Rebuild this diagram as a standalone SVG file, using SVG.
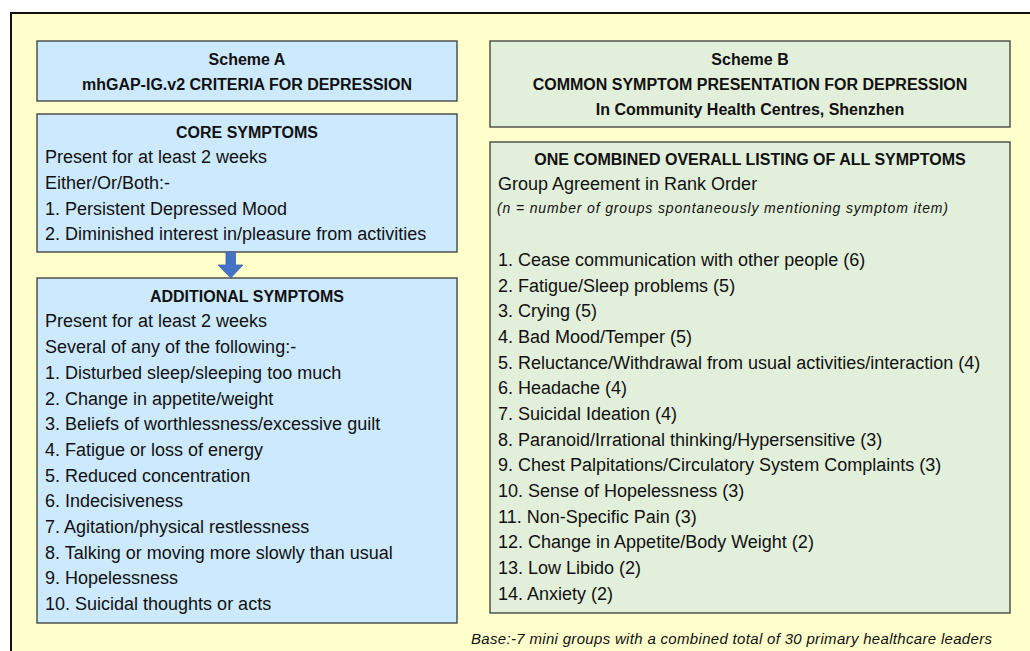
<svg xmlns="http://www.w3.org/2000/svg" width="1030" height="651" viewBox="0 0 1030 651">
<style>
.box{stroke:#3a3a3a;stroke-width:1.3}
.blue{fill:#CCE9FE}
.green{fill:#E2EFDA}
text{font-family:"Liberation Sans",Arial,sans-serif;fill:#111}
.t{font-size:16px;font-weight:bold;text-anchor:middle}
.b{font-size:18px}
.i{font-style:italic}
</style>
<rect x="11" y="13" width="1030" height="650" fill="#FFFFCC" stroke="#111" stroke-width="2"/>
<g id="schemeA">
<rect class="box blue" x="37" y="41" width="420" height="60"/>
<text class="t" x="247" y="65">Scheme A</text>
<text class="t" x="247" y="90">mhGAP-IG.v2 CRITERIA FOR DEPRESSION</text>
</g>
<g id="core">
<rect class="box blue" x="37" y="114" width="420" height="138"/>
<text class="t" x="247" y="138">CORE SYMPTOMS</text>
<text class="b" x="45" y="163">Present for at least 2 weeks</text>
<text class="b" x="45" y="189">Either/Or/Both:-</text>
<text class="b" x="45" y="215">1. Persistent Depressed Mood</text>
<text class="b" x="45" y="240">2. Diminished interest in/pleasure from activities</text>
</g>
<g id="additional">
<rect class="box blue" x="37" y="278" width="420" height="345"/>
<text class="t" x="247" y="302">ADDITIONAL SYMPTOMS</text>
<text class="b" x="45" y="327">Present for at least 2 weeks</text>
<text class="b" x="45" y="353">Several of any of the following:-</text>
<text class="b" x="45" y="379">1. Disturbed sleep/sleeping too much</text>
<text class="b" x="45" y="404.6">2. Change in appetite/weight</text>
<text class="b" x="45" y="430.3">3. Beliefs of worthlessness/excessive guilt</text>
<text class="b" x="45" y="456">4. Fatigue or loss of energy</text>
<text class="b" x="45" y="481.7">5. Reduced concentration</text>
<text class="b" x="45" y="507.3">6. Indecisiveness</text>
<text class="b" x="45" y="533">7. Agitation/physical restlessness</text>
<text class="b" x="45" y="558.7">8. Talking or moving more slowly than usual</text>
<text class="b" x="45" y="584.3">9. Hopelessness</text>
<text class="b" x="45" y="610">10. Suicidal thoughts or acts</text>
</g>
<g id="connectors">
<path d="M226 252 H235.5 V265 H243 L230.7 278 L218 265 H226 Z" fill="#4472C4" stroke="#3A62AE" stroke-width="0.8"/>
</g>
<g id="schemeB">
<rect class="box green" x="490" y="41" width="520" height="86"/>
<text class="t" x="750" y="65">Scheme B</text>
<text class="t" x="750" y="90">COMMON SYMPTOM PRESENTATION FOR DEPRESSION</text>
<text class="t" x="750" y="115">In Community Health Centres, Shenzhen</text>
</g>
<g id="combined">
<rect class="box green" x="490" y="142" width="520" height="471"/>
<text class="t" x="750" y="165">ONE COMBINED OVERALL LISTING OF ALL SYMPTOMS</text>
<text class="b" x="498" y="190">Group Agreement in Rank Order</text>
<text class="i" x="497" y="212.5" font-size="14" textLength="451">(n = number of groups spontaneously mentioning symptom item)</text>
<text class="b" x="498" y="266">1. Cease communication with other people (6)</text>
<text class="b" x="498" y="291.7">2. Fatigue/Sleep problems (5)</text>
<text class="b" x="498" y="317.3">3. Crying (5)</text>
<text class="b" x="498" y="343">4. Bad Mood/Temper (5)</text>
<text class="b" x="498" y="368.7">5. Reluctance/Withdrawal from usual activities/interaction (4)</text>
<text class="b" x="498" y="394.3">6. Headache (4)</text>
<text class="b" x="498" y="420">7. Suicidal Ideation (4)</text>
<text class="b" x="498" y="445.7">8. Paranoid/Irrational thinking/Hypersensitive (3)</text>
<text class="b" x="498" y="471.3">9. Chest Palpitations/Circulatory System Complaints (3)</text>
<text class="b" x="498" y="497">10. Sense of Hopelessness (3)</text>
<text class="b" x="498" y="522.7">11. Non-Specific Pain (3)</text>
<text class="b" x="498" y="548.3">12. Change in Appetite/Body Weight (2)</text>
<text class="b" x="498" y="574">13. Low Libido (2)</text>
<text class="b" x="498" y="599.7">14. Anxiety (2)</text>
</g>
<text class="i" x="471" y="644" font-size="15" textLength="521">Base:-7 mini groups with a combined total of 30 primary healthcare leaders</text>
</svg>
